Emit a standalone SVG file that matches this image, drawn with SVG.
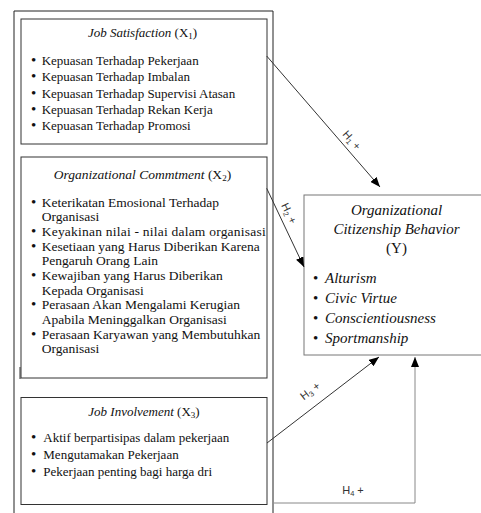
<svg xmlns="http://www.w3.org/2000/svg" width="481" height="513" viewBox="0 0 481 513">
<style>
.box{fill:#fff;stroke:#333;stroke-width:1}
.t{font-family:"Liberation Serif","Times New Roman",serif;font-size:13px;fill:#111}
.t2{font-family:"Liberation Serif","Times New Roman",serif;font-size:13.5px;fill:#111}
.ty{font-family:"Liberation Serif","Times New Roman",serif;font-size:15px;fill:#111}
.it{font-style:italic}
.b{font-size:15px}
.h{font-family:"Liberation Sans",Arial,sans-serif;font-size:11px;fill:#333}
.c{fill:none;stroke:#333;stroke-width:1}
</style>
<defs>
<marker id="arr" markerUnits="userSpaceOnUse" markerWidth="10" markerHeight="8" refX="10" refY="4" orient="auto">
<path d="M0,0 L10,4 L0,8 z" fill="#000"/>
</marker>
</defs>
<rect x="0" y="0" width="481" height="513" fill="#fff"/>
<g id="outer">
<path d="M14,520 V11 H273 V520" fill="none" stroke="#222" stroke-width="1"/>
<line x1="20" y1="367" x2="20" y2="379" stroke="#333" stroke-width="1"/>
</g>
<g id="x1">
<rect class="box" x="21" y="19" width="246" height="125"/>
<text class="t" x="142.5" y="37" text-anchor="middle"><tspan class="it">Job Satisfaction</tspan> (X<tspan font-size="9" dy="2">1</tspan><tspan dy="-2">)</tspan></text>
<g class="t">
<text class="b" x="31" y="65">•</text><text x="41.7" y="65">Kepuasan Terhadap Pekerjaan</text>
<text class="b" x="31" y="81.3">•</text><text x="41.7" y="81.3">Kepuasan Terhadap Imbalan</text>
<text class="b" x="31" y="97.6">•</text><text x="41.7" y="97.6">Kepuasan Terhadap Supervisi Atasan</text>
<text class="b" x="31" y="113.9">•</text><text x="41.7" y="113.9">Kepuasan Terhadap Rekan Kerja</text>
<text class="b" x="31" y="130.2">•</text><text x="41.7" y="130.2">Kepuasan Terhadap Promosi</text>
</g>
</g>
<g id="x2">
<rect class="box" x="21" y="157" width="246" height="221"/>
<text class="t2" x="142.5" y="178.7" text-anchor="middle"><tspan class="it">Organizational Commtment</tspan> (X<tspan font-size="9" dy="2">2</tspan><tspan dy="-2">)</tspan></text>
<g class="t2">
<text class="b" x="31" y="206.7">•</text><text x="41.7" y="206.7">Keterikatan Emosional Terhadap</text>
<text x="41.7" y="221.3">Organisasi</text>
<text class="b" x="31" y="236">•</text><text x="41.7" y="236" textLength="224" lengthAdjust="spacing">Keyakinan nilai - nilai dalam organisasi</text>
<text class="b" x="31" y="250.7">•</text><text x="41.7" y="250.7">Kesetiaan yang Harus Diberikan Karena</text>
<text x="41.7" y="265.3">Pengaruh Orang Lain</text>
<text class="b" x="31" y="280">•</text><text x="41.7" y="280">Kewajiban yang Harus Diberikan</text>
<text x="41.7" y="294.7">Kepada Organisasi</text>
<text class="b" x="31" y="309.3">•</text><text x="41.7" y="309.3">Perasaan Akan Mengalami Kerugian</text>
<text x="41.7" y="324">Apabila Meninggalkan Organisasi</text>
<text class="b" x="31" y="338.7">•</text><text x="41.7" y="338.7">Perasaan Karyawan yang Membutuhkan</text>
<text x="41.7" y="353.3">Organisasi</text>
</g>
</g>
<g id="x3">
<rect class="box" x="21" y="397.5" width="246" height="107"/>
<text class="t" x="144" y="415.5" text-anchor="middle"><tspan class="it">Job Involvement</tspan> (X<tspan font-size="9" dy="2">3</tspan><tspan dy="-2">)</tspan></text>
<g class="t">
<text class="b" x="31" y="442.3">•</text><text x="43.3" y="442.3">Aktif berpartisipas dalam pekerjaan</text>
<text class="b" x="31" y="459">•</text><text x="43.3" y="459">Mengutamakan Pekerjaan</text>
<text class="b" x="31" y="475.7">•</text><text x="43.3" y="475.7">Pekerjaan penting bagi harga dri</text>
</g>
</g>
<g id="y">
<rect x="304" y="195" width="200" height="160" fill="#fff" stroke="#777" stroke-width="1"/>
<g class="ty" text-anchor="middle">
<text class="it" x="396.5" y="215">Organizational</text>
<text class="it" x="396.5" y="234">Citizenship Behavior</text>
<text x="396.5" y="253">(Y)</text>
</g>
<g class="ty">
<text x="313" y="283">•</text><text class="it" x="325" y="283">Alturism</text>
<text x="313" y="303">•</text><text class="it" x="325" y="303">Civic Virtue</text>
<text x="313" y="323">•</text><text class="it" x="325" y="323">Conscientiousness</text>
<text x="313" y="343">•</text><text class="it" x="325" y="343">Sportmanship</text>
</g>
</g>
<g id="connectors">
<line class="c" x1="266.7" y1="56" x2="380" y2="187" marker-end="url(#arr)"/>
<line class="c" x1="266.7" y1="188.3" x2="304" y2="267" marker-end="url(#arr)"/>
<line class="c" x1="267" y1="443" x2="379" y2="357" marker-end="url(#arr)"/>
<path d="M274,503 H415 V357" fill="none" stroke="#888" stroke-width="1" marker-end="url(#arr)"/>
<text class="h" text-anchor="middle" transform="translate(352,140) rotate(49)" y="4">H<tspan font-size="7.5" dy="2">1</tspan><tspan dy="-2"> +</tspan></text>
<text class="h" text-anchor="middle" transform="translate(289.3,213.3) rotate(64)" y="4">H<tspan font-size="7.5" dy="2">2</tspan><tspan dy="-2"> +</tspan></text>
<text class="h" text-anchor="middle" transform="translate(310,390.7) rotate(-37.5)" y="4">H<tspan font-size="7.5" dy="2">3</tspan><tspan dy="-2"> +</tspan></text>
<text class="h" text-anchor="middle" x="353" y="494">H<tspan font-size="7.5" dy="2">4</tspan><tspan dy="-2"> +</tspan></text>
</g>
</svg>
